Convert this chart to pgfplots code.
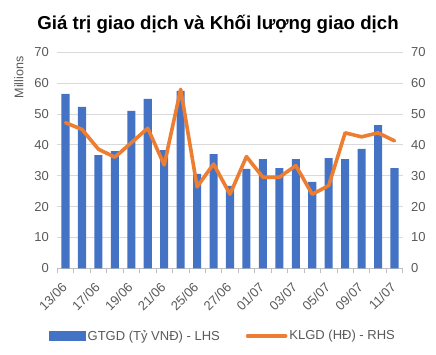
\documentclass[border=0pt]{standalone}
\usepackage{pgfplots}
\pgfplotsset{compat=1.18}
\usepackage{pgfplotstable}
\usepackage{fontspec}
\setmainfont{Liberation Sans}
\definecolor{barblue}{HTML}{4472C4}
\definecolor{lineor}{HTML}{ED7D31}
\definecolor{txtgray}{HTML}{595959}
\definecolor{gridgray}{HTML}{D9D9D9}
\definecolor{axgray}{HTML}{BFBFBF}

\pgfplotstableread{
x gtgd klgd
0 56.5 47.2
1 52.3 45.0
2 36.7 38.6
3 38.0 36.0
4 51.0 40.7
5 54.9 45.4
6 38.3 33.5
7 57.5 58.0
8 30.6 26.4
9 37.0 33.8
10 26.7 24.0
11 32.2 36.2
12 35.4 29.5
13 32.5 29.5
14 35.4 33.3
15 28.0 24.0
16 35.7 26.8
17 35.4 43.9
18 38.7 42.6
19 46.4 43.9
20 32.5 41.3
}\data

\begin{document}
\begin{tikzpicture}
\pgfplotsset{
  base/.style={
    at={(57.3pt,86.7pt)}, anchor=south west,
    width=345.4pt, height=216pt, scale only axis,
    xmin=-0.5, xmax=20.5, ymin=0, ymax=70,
    ytick={0,10,...,70},
    tick label style={font=\fontsize{13}{15}\selectfont, text=txtgray},
    /pgf/number format/assume math mode=true,
    major tick length=0pt,
  }
}
\begin{axis}[base,
  axis x line*=bottom, axis y line*=left,
  y axis line style={draw=none},
  x axis line style={draw=axgray, line width=0.75pt},
  xtick={0,2,...,20},
  xticklabels={13/06,17/06,19/06,21/06,25/06,27/06,01/07,03/07,05/07,09/07,11/07},
  xticklabel style={rotate=45, anchor=east, xshift=-9pt, yshift=-11pt},
  minor xtick={-0.5,0.5,...,20.5},
  minor tick length=5pt,
  xtick align=outside,
  minor tick style={draw=axgray, line width=0.75pt},
  ymajorgrids, major grid style={draw=gridgray, line width=0.75pt},
  yticklabel style={xshift=-5pt},
]
\addplot[ybar, bar width=0.49, fill=barblue, draw=none] table[x=x,y=gtgd]{\data};
\end{axis}
\begin{axis}[base,
  axis y line*=right, axis x line=none,
  y axis line style={draw=none},
  yticklabel style={xshift=5pt},
  legend style={at={(0.48,-0.313)}, anchor=center, draw=none, fill=none,
    legend columns=2, font=\fontsize{13}{15}\selectfont, text=txtgray,
    /tikz/every even column/.append style={column sep=24pt},
    inner sep=0pt},
  legend cell align=left,
]
\addlegendimage{legend image code/.code={\fill[barblue] (0pt,-4.5pt) rectangle (36pt,4.5pt);}}
\addlegendentry{GTGD (Tỷ VNĐ) - LHS}
\addplot[lineor, line width=3.6pt, line join=round, line cap=round,
  legend image code/.code={\draw[lineor, line width=3.6pt, line cap=round] (0pt,0pt) -- (38pt,0pt);}]
  table[x=x,y=klgd]{\data};
\addlegendentry{KLGD (HĐ) - RHS}
\end{axis}
\node[rotate=90, text=txtgray, font=\fontsize{12.5}{14}\selectfont] at (19pt,277.5pt) {Millions};
\node[anchor=base, font=\bfseries\fontsize{18.7}{22}\selectfont] at (218pt,325.7pt) {Giá trị giao dịch và Khối lượng giao dịch};
\pgfresetboundingbox
\path[use as bounding box] (0,0) rectangle (436pt,355pt);
\end{tikzpicture}
\end{document}
